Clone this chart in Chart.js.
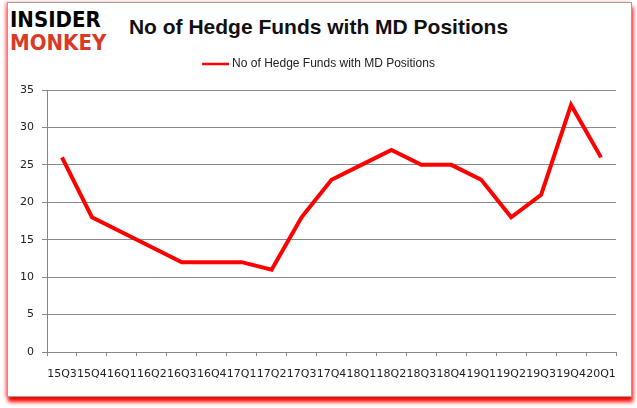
<!DOCTYPE html>
<html>
<head>
<meta charset="utf-8">
<script src="https://cdn.jsdelivr.net/npm/chart.js@4/dist/chart.umd.min.js"></script>
<style>
  body { margin: 0; background: #fff; }
  #frame {
    position: absolute; left: 7px; top: 2px; width: 623px; height: 393px;
    border: 1px solid #a0a0a0; background: #fff;
    box-shadow: 1px 5px 4px #ff0000, -2px 0 3px rgba(255, 0, 0, 0.35);
  }
  #logo {
    position: absolute; left: 10px; top: 8px;
    font-family: "DejaVu Sans Condensed", "DejaVu Sans", sans-serif;
    font-weight: bold; font-size: 22px; line-height: 23px;
  }
  #logo .a { color: #000; }
  #logo .b { color: #d93a26; }
  #title {
    position: absolute; left: 0; width: 637px; top: 15px; text-align: center;
    font-family: "Liberation Sans", sans-serif; font-weight: bold; font-size: 21px;
    color: #111;
  }
  #wrap { position: absolute; left: 0; top: 0; width: 637px; height: 408px; }
</style>
</head>
<body>
<div id="frame"></div>
<div id="logo"><div class="a">INSIDER</div><div class="b">MONKEY</div></div>
<div id="title">No of Hedge Funds with MD Positions</div>
<div id="wrap"><canvas id="chart" width="637" height="408"></canvas></div>
<script>
  // Quarters and hedge fund counts
  const quarters = ["15Q3", "15Q4", "16Q1", "16Q2", "16Q3", "16Q4", "17Q1", "17Q2", "17Q3", "17Q4",
    "18Q1", "18Q2", "18Q3", "18Q4", "19Q1", "19Q2", "19Q3", "19Q4", "20Q1"];
  const fundCounts = [26, 18, 16, 14, 12, 12, 12, 11, 18, 23, 25, 27, 25, 25, 23, 18, 21, 33, 26];
  const yTicks = [0, 5, 10, 15, 20, 25, 30, 35];

  const tickFont = { family: "DejaVu Sans", size: 11 };

  // Simple legend drawn above the plot (line sample + series name)
  const lineLegend = {
    id: "lineLegend",
    afterDraw(chart) {
      const ctx = chart.ctx;
      const ds = chart.data.datasets[0];
      ctx.save();
      ctx.font = "12px 'Liberation Sans'";
      const textW = ctx.measureText(ds.label).width;
      const total = 27 + 3 + textW;
      const x0 = (chart.width - total) / 2;
      const y = 64;
      ctx.strokeStyle = ds.borderColor;
      ctx.lineWidth = 2.5;
      ctx.beginPath();
      ctx.moveTo(x0, y);
      ctx.lineTo(x0 + 27, y);
      ctx.stroke();
      ctx.fillStyle = "#222";
      ctx.textBaseline = "middle";
      ctx.fillText(ds.label, x0 + 30, y);
      ctx.restore();
    },
  };

  new Chart(document.getElementById("chart"), {
    type: "line",
    data: {
      labels: quarters,
      datasets: [
        {
          label: "No of Hedge Funds with MD Positions",
          data: fundCounts,
          borderColor: "#ff0000",
          backgroundColor: "#ff0000",
          borderWidth: 4,
          pointRadius: 0,
          tension: 0,
          fill: false,
        },
      ],
    },
    options: {
      responsive: false,
      animation: false,
      layout: { padding: { left: 0, right: 21, top: 90, bottom: 0 } },
      plugins: {
        legend: { display: false },
        tooltip: { enabled: false },
      },
      scales: {
        x: {
          offset: true,
          grid: {
            offset: true,
            drawOnChartArea: false,
            drawTicks: true,
            tickLength: 4,
            color: "#888",
          },
          border: { color: "#888" },
          ticks: {
            autoSkip: false,
            maxRotation: 0,
            minRotation: 0,
            padding: 12,
            color: "#222",
            font: tickFont,
          },
          afterFit: (s) => { s.height = 56; },
        },
        y: {
          min: 0,
          max: 35,
          afterBuildTicks: (s) => { s.ticks = yTicks.map((v) => ({ value: v })); },
          grid: { color: "#888", tickLength: 5 },
          border: { color: "#888" },
          ticks: { padding: 8, color: "#222", font: tickFont },
          afterFit: (s) => { s.width = 47; },
        },
      },
    },
    plugins: [lineLegend],
  });
</script>
</body>
</html>
